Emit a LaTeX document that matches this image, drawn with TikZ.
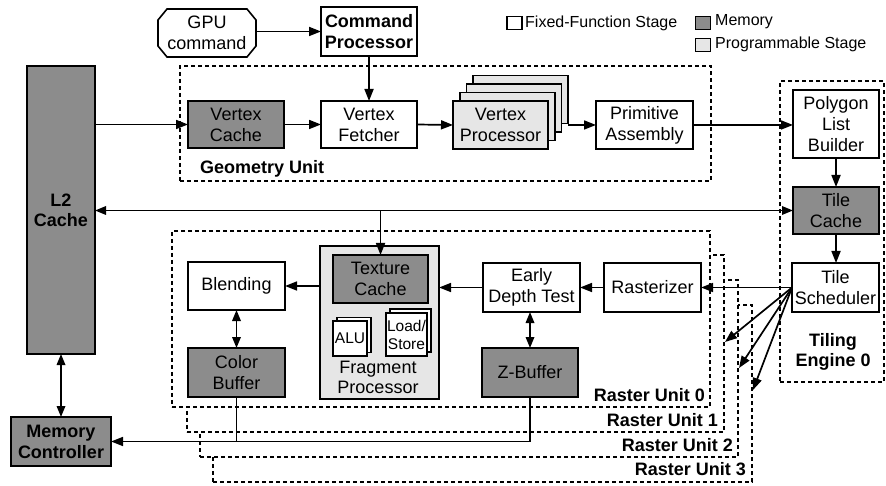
\documentclass[tikz,border=0pt]{standalone}
\usepackage{fontspec}
\setmainfont{Liberation Sans}
\usetikzlibrary{arrows.meta,calc}
\definecolor{memgray}{RGB}{140,140,140}
\definecolor{proggray}{RGB}{230,230,230}
\begin{document}
\begin{tikzpicture}[x=1pt,y=-1pt,
  base/.style={draw, line width=1.6pt, inner sep=0pt, outer sep=0pt, align=center, font=\fontsize{18}{21}\selectfont},
  fixbox/.style={base, fill=white},
  membox/.style={base, fill=memgray},
  progbox/.style={base, fill=proggray},
  sz/.style 2 args={minimum width=#1pt, minimum height=#2pt},
  smallf/.style={font=\fontsize{15.5}{18}\selectfont},
  dbox/.style={draw, line width=1.5pt, dash pattern=on 4pt off 3pt, inner sep=0pt, outer sep=0pt, anchor=north west},
  rubox/.style={dbox, fill=white},
  lbl/.style={font=\fontsize{18}{20}\selectfont\bfseries, align=center, inner sep=0pt},
  legt/.style={font=\fontsize{16}{18}\selectfont, inner sep=0pt, anchor=west},
  arr/.style={line width=1.7pt, -{Triangle[length=12pt,width=9pt]}},
  darr/.style={line width=1.7pt, {Triangle[length=11pt,width=8.5pt]}-{Triangle[length=11pt,width=8.5pt]}},
  ln/.style={line width=1.7pt},
]
\useasboundingbox (0,0) rectangle (886,486);

% legend
\node[fixbox, sz={15}{13}] (lgf) at (514.5,23) {};
\node[legt] (lgft) at (525,23) {Fixed-Function Stage};
\node[membox, sz={15}{13}] (lgm) at (703,23) {};
\node[legt] (lgmt) at (715,22) {Memory};
\node[progbox, sz={15}{13}] (lgp) at (703,45) {};
\node[legt] (lgpt) at (715,44) {Programmable Stage};

% containers
\node[dbox, minimum width=531pt, minimum height=115pt] (geo) at (180,66) {};
\node[lbl, anchor=west] (geol) at (200,169) {Geometry Unit};
\node[dbox, minimum width=104pt, minimum height=301pt] (te) at (780,81) {};
\node[lbl] (tel) at (833,352) {Tiling\\Engine 0};

\node[rubox, minimum width=539pt, minimum height=177pt] (ru3) at (213,305) {};
\node[rubox, minimum width=538pt, minimum height=177pt] (ru2) at (200,280) {};
\node[rubox, minimum width=537pt, minimum height=177pt] (ru1) at (187,255) {};
\node[rubox, minimum width=538pt, minimum height=176pt] (ru0) at (172,231) {};
\node[lbl, anchor=east] (ru3l) at (746,469) {Raster Unit 3};
\node[lbl, anchor=east] (ru2l) at (733,445) {Raster Unit 2};
\node[lbl, anchor=east] (ru1l) at (718,420) {Raster Unit 1};
\node[lbl, anchor=east] (ru0l) at (705,395) {Raster Unit 0};

% top
\node[base, draw=none, sz={98}{48}] (gpu) at (207,33) {GPU\\command};
\draw[line width=1.6pt] ($(gpu.north west)+(9,0)$) -- ($(gpu.north east)+(-9,0)$) -- ($(gpu.north east)+(0,11)$) -- ($(gpu.south east)+(0,-11)$) -- ($(gpu.south east)+(-9,0)$) -- ($(gpu.south west)+(9,0)$) -- ($(gpu.south west)+(0,-11)$) -- ($(gpu.north west)+(0,11)$) -- cycle;
\node[fixbox, sz={96}{49}, font=\fontsize{18}{21}\selectfont\bfseries] (cp) at (369,31.5) {Command\\Processor};

% geometry unit
\node[membox, sz={96}{47}] (vc) at (236,124.5) {Vertex\\Cache};
\node[fixbox, sz={96}{47}] (vf) at (369,124.5) {Vertex\\Fetcher};
\foreach \k in {3,2,1} \node[progbox, sz={95}{48}] (vp\k) at ({500.5+6.7*\k},{125-8.5*\k}) {};
\node[progbox, sz={95}{48}] (vp) at (500.5,125) {Vertex\\Processor};
\node[fixbox, sz={97}{48}] (pa) at (644.5,125) {Primitive\\Assembly};

% tiling engine
\node[fixbox, sz={86}{68}] (plb) at (836,124) {Polygon\\List\\Builder};
\node[membox, sz={86}{47}] (tc) at (836,210.5) {Tile\\Cache};
\node[fixbox, sz={87}{49}] (ts) at (835.5,287.5) {Tile\\Scheduler};

% L2 and memory controller
\node[membox, sz={68}{288}, font=\fontsize{18}{20}\selectfont\bfseries] (l2) at (61,210) {L2\\Cache};
\node[membox, sz={100}{49}, font=\fontsize{18}{21}\selectfont\bfseries] (mc) at (61,441.5) {Memory\\Controller};

% raster unit 0
\node[fixbox, sz={97}{48}] (blend) at (236.5,286) {Blending};
\node[membox, sz={97}{49}] (cb) at (236.5,372.5) {Color\\Buffer};
\node[progbox, sz={119}{153}] (fp) at (379.5,322.5) {};
\node[membox, sz={95}{48}] (texc) at (380.5,279) {Texture\\Cache};
\node[fixbox, sz={34}{35}, line width=1.2pt] (alub) at (354,335) {};
\node[fixbox, sz={34}{35}, line width=1.2pt, smallf] (alu) at (350,338.5) {ALU};
\node[fixbox, sz={41}{43}, line width=1.2pt] (lsb) at (410.5,330.5) {};
\node[fixbox, sz={41}{43}, line width=1.2pt, smallf] (ls) at (406.5,334.5) {Load/\\Store};
\node[inner sep=0pt, align=center, font=\fontsize{18}{20}\selectfont] (fpl) at (378,377) {Fragment\\Processor};
\node[fixbox, sz={97}{49}] (edt) at (531.5,287.5) {Early\\Depth Test};
\node[fixbox, sz={97}{49}] (ras) at (652.5,287.5) {Rasterizer};
\node[membox, sz={96}{49}] (zb) at (530,372.5) {Z-Buffer};

% connectors
\draw[arr] (gpu.east |- cp.west) -- (cp.west);
\draw[arr] (cp.south) -- (vf.north);
\draw[arr] (l2.east |- vc.west) -- (vc.west);
\draw[arr] (vc.east) -- (vf.west);
\draw[arr] (vf.east) -- (vp.west);
\draw[arr] (vp3.east |- pa.west) -- (pa.west);
\draw[arr] (pa.east) -- (plb.west |- pa.east);
\draw[arr] (plb.south) -- (tc.north);
\draw[arr] (tc.south) -- (ts.north -| tc.south);
\draw[darr] (l2.east |- tc.west) -- (tc.west);
\draw[arr] (texc.north |- tc.west) -- (texc.north);
\draw[darr] (l2.south) -- (mc.north);
\draw[arr] (ts.west) -- (ras.east);
\draw[arr] (ras.west) -- (edt.east);
\draw[arr] (edt.west) -- (fp.east |- edt.west);
\draw[arr] (fp.west |- blend.east) -- (blend.east);
\draw[darr] (blend.south) -- (cb.north);
\draw[darr] (edt.south -| zb.north) -- (zb.north);
\draw[arr] (zb.south) |- (mc.east);
\draw[ln] (cb.south) -- (cb.south |- mc.east);
\coordinate (f1) at (725,342);
\coordinate (f2) at (739,368);
\coordinate (f3) at (753,390);
\draw[arr] (ts.west) -- (f1);
\draw[arr] (ts.west) -- (f2);
\draw[arr] (ts.west) -- (f3);
\end{tikzpicture}
\end{document}
